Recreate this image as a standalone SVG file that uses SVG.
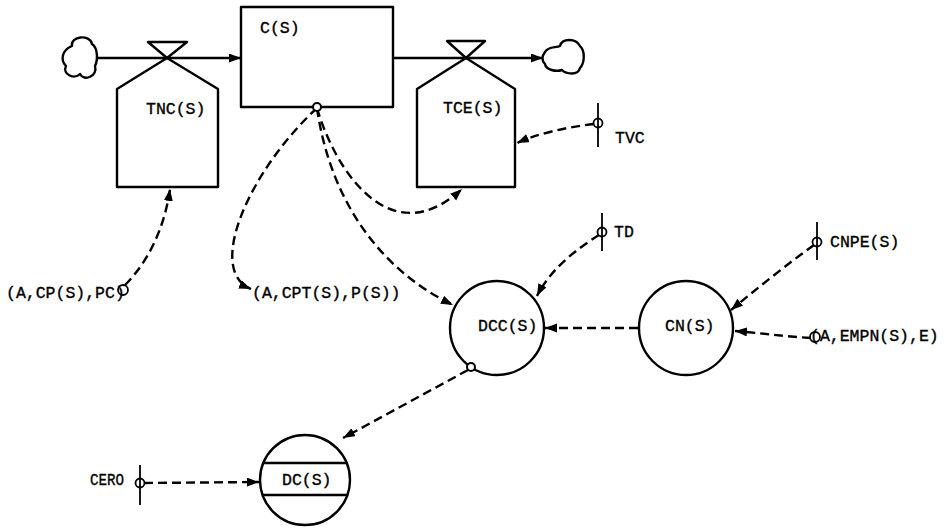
<svg xmlns="http://www.w3.org/2000/svg" width="951" height="528" viewBox="0 0 951 528">
<defs>
<marker id="ah" markerUnits="userSpaceOnUse" markerWidth="13" markerHeight="10" refX="12" refY="4.5" orient="auto">
<path d="M0,0 L12,4.5 L0,9 Z" fill="#000"/>
</marker>
<style>
.s{fill:none;stroke:#000;stroke-width:2.4;stroke-linejoin:round}
.w{fill:#fff;stroke:#000;stroke-width:2}
.flow{fill:none;stroke:#000;stroke-width:2.4}
.dash{fill:none;stroke:#000;stroke-width:2.4;stroke-dasharray:9 5}
.t{font-family:"Liberation Mono","DejaVu Sans Mono",monospace;font-size:16.5px;fill:#000;stroke:#000;stroke-width:0.35}
.src{fill:none;stroke:#000;stroke-width:1.8}
</style>
</defs>
<rect width="951" height="528" fill="#fff"/>
<g id="connectors">
<line class="flow" x1="96" y1="58" x2="241" y2="58" marker-end="url(#ah)"/>
<line class="flow" x1="393" y1="58" x2="543" y2="58" marker-end="url(#ah)"/>
<path class="dash" d="M317,108 C335,170 390,255 462,189" marker-end="url(#ah)"/>
<path class="dash" d="M317,108 C330,200 380,270 453,305" marker-end="url(#ah)"/>
<path class="dash" d="M317,108 C250,170 205,270 251,289" marker-end="url(#ah)"/>
<path class="dash" d="M125,285 C150,260 165,225 170,189" marker-end="url(#ah)"/>
<path class="dash" d="M594,124 C560,128 535,135 517,143" marker-end="url(#ah)"/>
<path class="dash" d="M599,235 C575,250 550,270 537,296" marker-end="url(#ah)"/>
<line class="dash" x1="638" y1="328" x2="545" y2="328" marker-end="url(#ah)"/>
<path class="dash" d="M814,245 C790,262 755,290 731,310" marker-end="url(#ah)"/>
<path class="dash" d="M811,338 C780,336 760,333 735,331" marker-end="url(#ah)"/>
<line class="dash" x1="468" y1="370" x2="343" y2="438" marker-end="url(#ah)"/>
<line class="dash" x1="144" y1="483" x2="259" y2="482" marker-end="url(#ah)"/>
</g>
<g id="cloud-left">
<path class="s" d="M72,46 C70,36 90,34 92,44 C98,48 98,60 95,66 C98,76 84,82 80,74 C74,80 62,74 66,66 C60,60 62,50 72,46 Z"/>
</g>
<g id="cloud-right">
<path class="s" d="M545,52 C548,46 556,48 560,46 C562,38 576,38 580,46 C586,52 584,64 580,68 C578,76 566,74 562,70 C556,72 546,70 545,64 C541,60 542,56 545,52 Z"/>
</g>
<g id="C">
<rect class="s" x="241" y="7" width="152" height="100"/>
<text class="t" x="260" y="33">C(S)</text>
<circle class="w" cx="317" cy="107" r="4"/>
</g>
<g id="TNC">
<path class="s" d="M117,187 V89 L167,58 L218,89 V187 Z"/>
<path class="s" d="M148,42 L187,42 L167,58 Z"/>
<text class="t" x="146" y="114">TNC(S)</text>
</g>
<g id="TCE">
<path class="s" d="M417,187 V89 L466,58 L515,89 V187 Z"/>
<path class="s" d="M447,41 L485,41 L466,58 Z"/>
<text class="t" x="443" y="113">TCE(S)</text>
</g>
<g id="TVC">
<line class="src" x1="598" y1="103" x2="598" y2="147"/>
<circle class="src" cx="598" cy="123" r="4.5"/>
<text class="t" x="615" y="143">TVC</text>
</g>
<g id="TD">
<line class="src" x1="602" y1="213" x2="602" y2="251"/>
<circle class="src" cx="602" cy="232" r="4.5"/>
<text class="t" x="614" y="237">TD</text>
</g>
<g id="CNPE">
<line class="src" x1="817" y1="222" x2="817" y2="260"/>
<circle class="src" cx="817" cy="242" r="4.5"/>
<text class="t" x="830" y="247">CNPE(S)</text>
</g>
<g id="ACP">
<text class="t" x="6" y="298">(A,CP(S),PC)</text>
<circle class="src" cx="123" cy="290" r="5"/>
</g>
<g id="ACPT">
<text class="t" x="252" y="298">(A,CPT(S),P(S))</text>
</g>
<g id="DCC">
<circle class="s" cx="497" cy="328" r="47"/>
<text class="t" x="478" y="331">DCC(S)</text>
<circle class="w" cx="471" cy="367" r="4"/>
</g>
<g id="CN">
<circle class="s" cx="686" cy="328" r="47"/>
<text class="t" x="665" y="331">CN(S)</text>
</g>
<g id="AEMPN">
<text class="t" x="810" y="341">(A,EMPN(S),E)</text>
<circle class="src" cx="815" cy="337" r="5"/>
</g>
<g id="CERO">
<line class="src" x1="140" y1="465" x2="140" y2="505"/>
<circle class="src" cx="140" cy="483" r="4.5"/>
<text class="t" x="90" y="485" textLength="34" lengthAdjust="spacingAndGlyphs">CERO</text>
</g>
<g id="DC">
<circle class="s" cx="305" cy="480" r="45"/>
<line class="s" x1="263" y1="463" x2="347" y2="463"/>
<line class="s" x1="262" y1="495" x2="348" y2="495"/>
<text class="t" x="282" y="485">DC(S)</text>
</g>
</svg>
